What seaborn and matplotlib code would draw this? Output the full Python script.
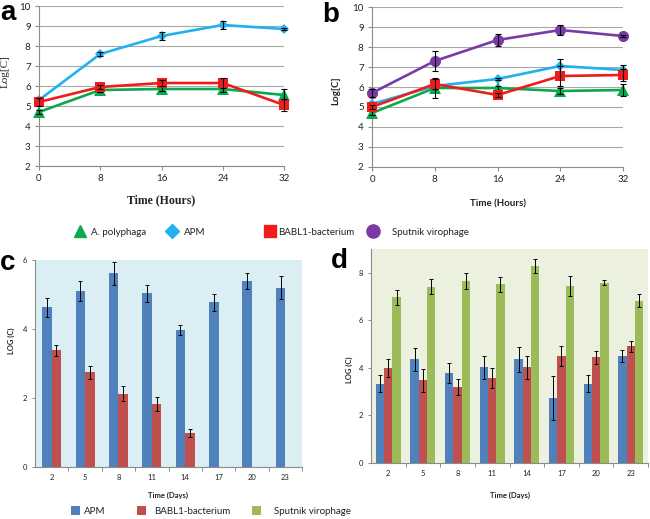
import numpy as np
import pandas as pd
import matplotlib
matplotlib.use("Agg")
import matplotlib.pyplot as plt
import seaborn as sns
from matplotlib.lines import Line2D
from matplotlib.patches import Patch

# ---------------- data ----------------
hours = [0, 8, 16, 24, 32]

# panel a
a_poly = [4.7, 5.8, 5.85, 5.85, 5.55]
a_poly_err = [0.1, 0.1, 0.1, 0.15, 0.3]
a_apm = [5.3, 7.6, 8.5, 9.05, 8.85]
a_apm_err = [0.15, 0.12, 0.2, 0.2, 0.05]
a_babl = [5.2, 5.95, 6.15, 6.15, 5.05]
a_babl_err = [0.2, 0.1, 0.15, 0.25, 0.3]

# panel b
b_sput = [5.7, 7.3, 8.35, 8.85, 8.55]
b_sput_err = [0.2, 0.5, 0.3, 0.25, 0.05]
b_apm = [5.15, 6.05, 6.4, 7.05, 6.85]
b_apm_err = [0.1, 0.1, 0.05, 0.35, 0.25]
b_babl = [5.0, 6.15, 5.6, 6.55, 6.6]
b_babl_err = [0.1, 0.25, 0.1, 0.5, 0.3]
b_poly = [4.7, 5.95, 5.95, 5.8, 5.85]
b_poly_err = [0.1, 0.5, 0.1, 0.15, 0.3]

# panel c
days = ["2", "5", "8", "11", "14", "17", "20", "23"]
c_apm = [4.63, 5.11, 5.61, 5.03, 3.97, 4.77, 5.40, 5.20]
c_apm_err = [0.28, 0.29, 0.34, 0.24, 0.15, 0.25, 0.23, 0.34]
c_babl_days = ["2", "5", "8", "11", "14"]
c_babl = [3.38, 2.74, 2.13, 1.82, 0.99]
c_babl_err = [0.17, 0.18, 0.21, 0.21, 0.11]

# panel d
d_apm = [3.33, 4.36, 3.78, 4.03, 4.36, 2.73, 3.33, 4.50]
d_apm_err = [0.35, 0.49, 0.42, 0.48, 0.53, 0.91, 0.35, 0.25]
d_babl = [3.99, 3.47, 3.19, 3.57, 4.03, 4.48, 4.45, 4.90]
d_babl_err = [0.38, 0.48, 0.34, 0.42, 0.48, 0.42, 0.28, 0.24]
d_sput = [6.97, 7.41, 7.66, 7.52, 8.29, 7.45, 7.58, 6.83]
d_sput_err = [0.31, 0.32, 0.34, 0.31, 0.31, 0.41, 0.11, 0.28]

# ---------------- style ----------------
GREEN_L = "#0aa84f"
CYAN_L = "#21b1ec"
RED_L = "#f01c1c"
PURPLE_L = "#7a3aa6"
BLUE_B = "#4f81bd"
RED_B = "#c0504d"
GREEN_B = "#9bbb59"
SANS = ["Lato", "DejaVu Sans"]
SERIF = ["Liberation Serif", "DejaVu Serif"]

sns.set_theme(style="white")
plt.rcParams["font.family"] = SANS

fig = plt.figure(figsize=(6.5, 5.19), dpi=100)
W, H = 650.0, 519.0


def box(l, t, r, b):
    return [l / W, 1 - b / H, (r - l) / W, (b - t) / H]


axa = fig.add_axes(box(39, 6, 284, 166))
axb = fig.add_axes(box(372, 7, 623, 167))
axc = fig.add_axes(box(35, 260, 302, 467))
axd = fig.add_axes(box(371, 249, 648, 463))


def line_series(ax, y, err, color, marker, ms, z):
    df = pd.DataFrame({"t": hours, "v": y})
    sns.lineplot(data=df, x="t", y="v", ax=ax, color=color, marker=marker,
                 markersize=ms, markeredgewidth=0, linewidth=1.9,
                 clip_on=False, zorder=z)
    ax.errorbar(hours, y, yerr=err, fmt="none", ecolor="black",
                elinewidth=0.8, capsize=2, capthick=0.8, clip_on=False,
                zorder=z + 0.5)


def style_line(ax):
    ax.set_xlim(0, 32)
    ax.set_ylim(2, 10)
    ax.set_xticks(hours)
    ax.set_yticks(range(2, 11))
    ax.grid(axis="y", color="#a8a8a8", linewidth=0.8)
    ax.grid(axis="x", visible=False)
    ax.set_axisbelow(True)
    for s in ["top", "right"]:
        ax.spines[s].set_visible(False)
    for s in ["left", "bottom"]:
        ax.spines[s].set_color("#8c8c8c")
        ax.spines[s].set_linewidth(0.8)
    ax.tick_params(axis="both", length=3, width=0.8, color="#8c8c8c",
                   labelsize=7, pad=3, left=True, bottom=True,
                   labelcolor="#222222")


# panel a
line_series(axa, a_apm, a_apm_err, CYAN_L, "D", 5.5, 3)
line_series(axa, a_poly, a_poly_err, GREEN_L, "^", 8, 4)
line_series(axa, a_babl, a_babl_err, RED_L, "s", 7, 5)
style_line(axa)
axa.set_xlabel("Time (Hours)", family=SERIF, fontweight="bold",
               fontsize=8.5, color="#222222")
axa.set_ylabel("Log[C]", family=SERIF, fontsize=8, color="#222222")
axa.xaxis.set_label_coords(0.5, -0.175)
axa.yaxis.set_label_coords(-0.118, 0.59)

# panel b
line_series(axb, b_sput, b_sput_err, PURPLE_L, "o", 8, 3)
line_series(axb, b_apm, b_apm_err, CYAN_L, "D", 5.5, 4)
line_series(axb, b_poly, b_poly_err, GREEN_L, "^", 8, 5)
line_series(axb, b_babl, b_babl_err, RED_L, "s", 7, 6)
style_line(axb)
axb.set_xlabel("Time (Hours)", fontweight="bold", fontsize=7,
               color="#222222")
axb.set_ylabel("Log[C]", fontweight="bold", fontsize=7, color="#222222")
axb.xaxis.set_label_coords(0.5, -0.2)
axb.yaxis.set_label_coords(-0.127, 0.475)


# ---------------- bar panels ----------------
def bar_panel(ax, frame, hue_order, palette, errs, width, bg, ylim, yticks):
    sns.barplot(data=frame, x="day", y="v", hue="s", order=days,
                hue_order=hue_order, palette=palette, width=width,
                errorbar=None, saturation=1, ax=ax, legend=False,
                linewidth=0)
    for cont, name in zip(ax.containers, hue_order):
        sub = frame[frame["s"] == name]
        xs = [p.get_x() + p.get_width() / 2 for p in cont]
        ax.errorbar(xs, sub["v"].values, yerr=errs[name], fmt="none",
                    ecolor="black", elinewidth=0.7, capsize=1.5,
                    capthick=0.7, zorder=5)
    ax.set_facecolor(bg)
    ax.set_xlim(-0.5, len(days) - 0.5)
    ax.set_ylim(*ylim)
    ax.set_yticks(yticks)
    for s in ["top", "right"]:
        ax.spines[s].set_visible(False)
    for s in ["left", "bottom"]:
        ax.spines[s].set_color("#8c8c8c")
        ax.spines[s].set_linewidth(0.8)
    ax.set_xticks(np.arange(len(days)) + 0.5, minor=True)
    ax.tick_params(axis="x", which="major", length=0, labelsize=5.5, pad=5,
                   labelcolor="#222222")
    ax.tick_params(axis="x", which="minor", length=3, width=0.7,
                   color="#8c8c8c", bottom=True)
    ax.tick_params(axis="y", length=2.5, width=0.7, color="#8c8c8c",
                   labelsize=5.5, pad=3, left=True, labelcolor="#222222")
    ax.grid(False)
    ax.set_xlabel("Time (Days)", fontweight="bold", fontsize=5.5,
                  color="#222222")
    ax.set_ylabel("LOG (C)", fontweight="bold", fontsize=5.5,
                  color="#222222")


dfc = pd.concat([
    pd.DataFrame({"day": days, "v": c_apm, "s": "APM"}),
    pd.DataFrame({"day": c_babl_days, "v": c_babl, "s": "BABL1-bacterium"}),
])
bar_panel(axc, dfc, ["APM", "BABL1-bacterium"], [BLUE_B, RED_B],
          {"APM": c_apm_err, "BABL1-bacterium": c_babl_err}, 0.57,
          "#daeef3", (0, 6), [0, 2, 4, 6])
axc.xaxis.set_label_coords(0.5, -0.12)
axc.yaxis.set_label_coords(-0.075, 0.61)

dfd = pd.concat([
    pd.DataFrame({"day": days, "v": d_apm, "s": "APM"}),
    pd.DataFrame({"day": days, "v": d_babl, "s": "BABL1-bacterium"}),
    pd.DataFrame({"day": days, "v": d_sput, "s": "Sputnik virophage"}),
])
bar_panel(axd, dfd, ["APM", "BABL1-bacterium", "Sputnik virophage"],
          [BLUE_B, RED_B, GREEN_B],
          {"APM": d_apm_err, "BABL1-bacterium": d_babl_err,
           "Sputnik virophage": d_sput_err}, 0.72,
          "#ebf1de", (0, 9), [0, 2, 4, 6, 8])
axd.xaxis.set_label_coords(0.5, -0.135)
axd.yaxis.set_label_coords(-0.065, 0.435)

# ---------------- legends ----------------
LEG_FS = 7


def put_legend(handle, label, x_px, y_px, hl, pad, fs=LEG_FS, hh=0.7):
    fig.legend([handle], [label], loc="center left",
               bbox_to_anchor=(x_px / W, 1 - y_px / H), frameon=False,
               fontsize=fs, handlelength=hl, handleheight=hh,
               handletextpad=pad, borderpad=0, borderaxespad=0,
               labelcolor="#222222")


fs_px = LEG_FS * 100 / 72.0
top_items = [
    (Line2D([], [], marker="^", color=GREEN_L, ls="none", markersize=9), "A. polyphaga", 80, 0.63),
    (Line2D([], [], marker="D", color=CYAN_L, ls="none", markersize=7), "APM", 172, 0.74),
    (Line2D([], [], marker="s", color=RED_L, ls="none", markersize=8), "BABL1-bacterium", 270, 0.32),
    (Line2D([], [], marker="o", color=PURPLE_L, ls="none", markersize=9.5), "Sputnik virophage", 373, 1.46),
]
for h, lab, cx, pad in top_items:
    put_legend(h, lab, cx - 0.5 * fs_px, 232, 1.0, pad)

bot_items = [
    (Patch(facecolor=BLUE_B, edgecolor="none"), "APM", 71, 0.41),
    (Patch(facecolor=RED_B, edgecolor="none"), "BABL1-bacterium", 137, 0.82),
    (Patch(facecolor=GREEN_B, edgecolor="none"), "Sputnik virophage", 252, 1.34),
]
for h, lab, lx, pad in bot_items:
    put_legend(h, lab, lx, 511, 0.93, pad, hh=0.93)

# ---------------- panel letters ----------------
for txt, x, y in [("a", 0, 20), ("b", 322, 22), ("c", 0, 270), ("d", 331, 268)]:
    fig.text(x / W, 1 - y / H, txt, fontsize=20, fontweight="bold",
             family=["Liberation Sans", "DejaVu Sans"], va="baseline",
             ha="left", color="black")

fig.savefig("out.png", dpi=100)
